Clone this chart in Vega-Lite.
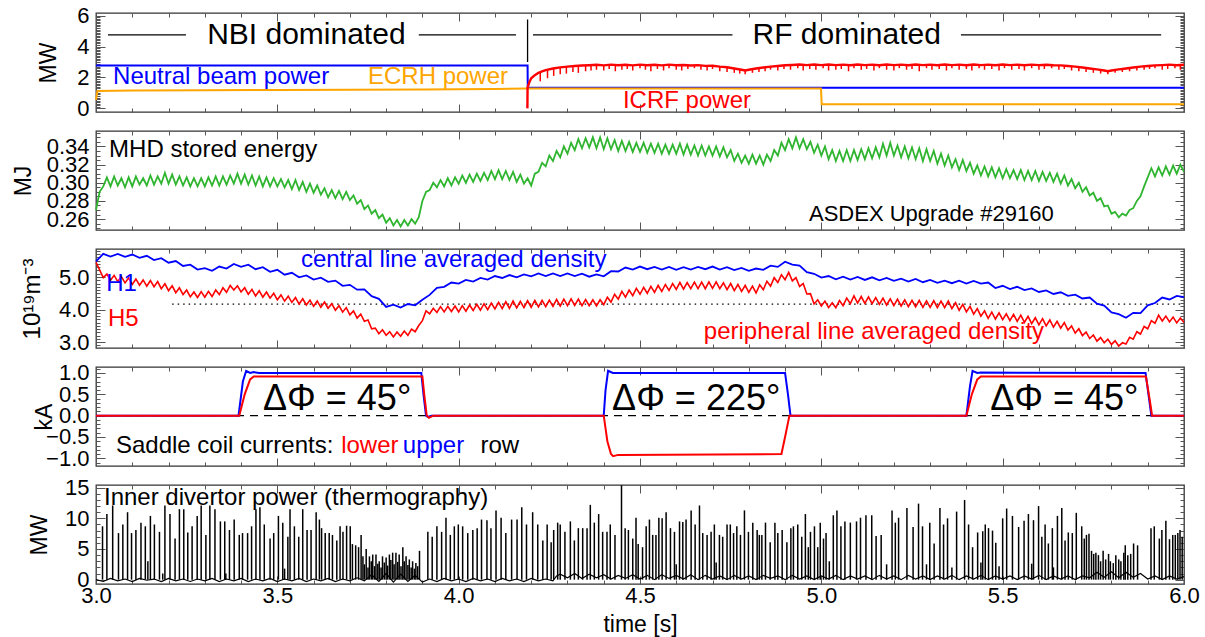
{
"$schema":"https://vega.github.io/schema/vega-lite/v6.json",
"background":"white",
"bounds":"flush",
"padding":{"left":11,"top":3,"right":5,"bottom":2},
"spacing":19,
"config":{
 "font":"Liberation Sans",
 "view":{"stroke":"#333","strokeWidth":1.3},
 "axis":{"labelFont":"Liberation Sans","labelFontSize":22,"labelColor":"#000","titleFont":"Liberation Sans","titleFontSize":23,"titleFontWeight":"normal","titleColor":"#000","tickColor":"#555","tickWidth":1,"domain":false,"grid":false,"labelOverlap":false,"labelFlush":false},
 "text":{"font":"Liberation Sans"}
},
"datasets":{
"nbi":[{"t":3,"v":2.78},{"t":4.19,"v":2.78},{"t":4.1905,"v":1.33},{"t":6,"v":1.33}],
"ecrh":[{"t":3,"v":0.55},{"t":3.004,"v":1.12},{"t":3.1,"v":1.15},{"t":3.3,"v":1.17},{"t":3.5,"v":1.19},{"t":3.7,"v":1.2},{"t":3.9,"v":1.22},{"t":4.1,"v":1.25},{"t":4.19,"v":1.28},{"t":4.6,"v":1.28},{"t":4.999,"v":1.28},{"t":5.001,"v":0.27},{"t":6,"v":0.27}],
"icrf":[{"t":4.1895,"v":0},{"t":4.19,"v":1.35},{"t":4.195,"v":1.7},{"t":4.2,"v":1.95},{"t":4.21,"v":2.15},{"t":4.22,"v":2.3},{"t":4.23,"v":2.4},{"t":4.24,"v":2.48},{"t":4.26,"v":2.58},{"t":4.28,"v":2.65},{"t":4.3,"v":2.7},{"t":4.32,"v":2.74},{"t":4.34,"v":2.77},{"t":4.36,"v":2.79},{"t":4.38,"v":2.82},{"t":4.4,"v":2.78},{"t":4.42,"v":2.83},{"t":4.44,"v":2.79},{"t":4.46,"v":2.82},{"t":4.48,"v":2.78},{"t":4.5,"v":2.83},{"t":4.52,"v":2.79},{"t":4.54,"v":2.82},{"t":4.56,"v":2.78},{"t":4.58,"v":2.83},{"t":4.6,"v":2.79},{"t":4.62,"v":2.81},{"t":4.64,"v":2.77},{"t":4.66,"v":2.8},{"t":4.68,"v":2.75},{"t":4.7,"v":2.76},{"t":4.72,"v":2.7},{"t":4.74,"v":2.66},{"t":4.76,"v":2.58},{"t":4.78,"v":2.5},{"t":4.79,"v":2.45},{"t":4.8,"v":2.5},{"t":4.82,"v":2.58},{"t":4.84,"v":2.64},{"t":4.86,"v":2.7},{"t":4.88,"v":2.74},{"t":4.9,"v":2.79},{"t":4.92,"v":2.81},{"t":4.94,"v":2.84},{"t":4.96,"v":2.8},{"t":4.98,"v":2.84},{"t":5,"v":2.8},{"t":5.02,"v":2.84},{"t":5.04,"v":2.8},{"t":5.06,"v":2.83},{"t":5.08,"v":2.79},{"t":5.1,"v":2.84},{"t":5.12,"v":2.8},{"t":5.14,"v":2.83},{"t":5.16,"v":2.79},{"t":5.18,"v":2.84},{"t":5.2,"v":2.8},{"t":5.22,"v":2.83},{"t":5.24,"v":2.79},{"t":5.26,"v":2.84},{"t":5.28,"v":2.8},{"t":5.3,"v":2.83},{"t":5.32,"v":2.79},{"t":5.34,"v":2.84},{"t":5.36,"v":2.8},{"t":5.38,"v":2.83},{"t":5.4,"v":2.79},{"t":5.42,"v":2.84},{"t":5.44,"v":2.8},{"t":5.46,"v":2.83},{"t":5.48,"v":2.79},{"t":5.5,"v":2.84},{"t":5.52,"v":2.8},{"t":5.54,"v":2.83},{"t":5.56,"v":2.79},{"t":5.58,"v":2.83},{"t":5.6,"v":2.8},{"t":5.62,"v":2.82},{"t":5.64,"v":2.79},{"t":5.66,"v":2.78},{"t":5.68,"v":2.74},{"t":5.7,"v":2.7},{"t":5.72,"v":2.64},{"t":5.74,"v":2.58},{"t":5.76,"v":2.52},{"t":5.78,"v":2.45},{"t":5.79,"v":2.4},{"t":5.8,"v":2.45},{"t":5.82,"v":2.52},{"t":5.84,"v":2.58},{"t":5.86,"v":2.64},{"t":5.88,"v":2.7},{"t":5.9,"v":2.74},{"t":5.92,"v":2.78},{"t":5.94,"v":2.8},{"t":5.96,"v":2.83},{"t":5.98,"v":2.79},{"t":6,"v":2.82}],
"dips":[{"t":4.225,"hi":2.35,"lo":1.75},{"t":4.245,"hi":2.5,"lo":1.95},{"t":4.262,"hi":2.58,"lo":2.1},{"t":4.28,"hi":2.65,"lo":2.2},{"t":4.297,"hi":2.7,"lo":2.25},{"t":4.315,"hi":2.74,"lo":2.35},{"t":4.33,"hi":2.76,"lo":2.3},{"t":4.35,"hi":2.78,"lo":2.4},{"t":4.365,"hi":2.8,"lo":2.45},{"t":4.38,"hi":2.8,"lo":2.5},{"t":4.4,"hi":2.8,"lo":2.45},{"t":4.415,"hi":2.8,"lo":2.55},{"t":4.432,"hi":2.8,"lo":2.4},{"t":4.45,"hi":2.8,"lo":2.5},{"t":4.465,"hi":2.8,"lo":2.55},{"t":4.48,"hi":2.8,"lo":2.45},{"t":4.5,"hi":2.8,"lo":2.6},{"t":4.515,"hi":2.8,"lo":2.5},{"t":4.53,"hi":2.8,"lo":2.4},{"t":4.548,"hi":2.8,"lo":2.55},{"t":4.565,"hi":2.8,"lo":2.45},{"t":4.58,"hi":2.8,"lo":2.6},{"t":4.6,"hi":2.8,"lo":2.5},{"t":4.615,"hi":2.8,"lo":2.45},{"t":4.632,"hi":2.8,"lo":2.55},{"t":4.65,"hi":2.8,"lo":2.6},{"t":4.668,"hi":2.78,"lo":2.5},{"t":4.685,"hi":2.76,"lo":2.45},{"t":4.7,"hi":2.75,"lo":2.55},{"t":4.72,"hi":2.7,"lo":2.4},{"t":4.74,"hi":2.66,"lo":2.35},{"t":4.76,"hi":2.58,"lo":2.3},{"t":4.775,"hi":2.52,"lo":2.25},{"t":4.79,"hi":2.45,"lo":2.2},{"t":4.81,"hi":2.54,"lo":2.3},{"t":4.828,"hi":2.62,"lo":2.35},{"t":4.845,"hi":2.66,"lo":2.4},{"t":4.86,"hi":2.7,"lo":2.5},{"t":4.88,"hi":2.74,"lo":2.45},{"t":4.897,"hi":2.79,"lo":2.55},{"t":4.915,"hi":2.8,"lo":2.5},{"t":4.935,"hi":2.82,"lo":2.6},{"t":4.95,"hi":2.82,"lo":2.45},{"t":4.968,"hi":2.82,"lo":2.55},{"t":4.985,"hi":2.82,"lo":2.5},{"t":5.005,"hi":2.82,"lo":2.6},{"t":5.02,"hi":2.82,"lo":2.45},{"t":5.04,"hi":2.82,"lo":2.5},{"t":5.055,"hi":2.82,"lo":2.55},{"t":5.075,"hi":2.82,"lo":2.4},{"t":5.09,"hi":2.82,"lo":2.6},{"t":5.11,"hi":2.82,"lo":2.5},{"t":5.125,"hi":2.82,"lo":2.55},{"t":5.145,"hi":2.82,"lo":2.45},{"t":5.16,"hi":2.82,"lo":2.6},{"t":5.18,"hi":2.82,"lo":2.5},{"t":5.2,"hi":2.82,"lo":2.45},{"t":5.215,"hi":2.82,"lo":2.6},{"t":5.235,"hi":2.82,"lo":2.5},{"t":5.25,"hi":2.82,"lo":2.55},{"t":5.27,"hi":2.82,"lo":2.4},{"t":5.29,"hi":2.82,"lo":2.6},{"t":5.305,"hi":2.82,"lo":2.5},{"t":5.325,"hi":2.82,"lo":2.55},{"t":5.345,"hi":2.82,"lo":2.45},{"t":5.36,"hi":2.82,"lo":2.6},{"t":5.38,"hi":2.82,"lo":2.5},{"t":5.4,"hi":2.82,"lo":2.55},{"t":5.415,"hi":2.82,"lo":2.45},{"t":5.435,"hi":2.82,"lo":2.6},{"t":5.45,"hi":2.82,"lo":2.5},{"t":5.47,"hi":2.82,"lo":2.55},{"t":5.49,"hi":2.82,"lo":2.45},{"t":5.505,"hi":2.82,"lo":2.6},{"t":5.525,"hi":2.82,"lo":2.5},{"t":5.545,"hi":2.82,"lo":2.55},{"t":5.56,"hi":2.82,"lo":2.45},{"t":5.58,"hi":2.82,"lo":2.6},{"t":5.6,"hi":2.81,"lo":2.5},{"t":5.615,"hi":2.8,"lo":2.55},{"t":5.635,"hi":2.79,"lo":2.6},{"t":5.655,"hi":2.78,"lo":2.5},{"t":5.67,"hi":2.76,"lo":2.55},{"t":5.69,"hi":2.72,"lo":2.45},{"t":5.71,"hi":2.67,"lo":2.4},{"t":5.73,"hi":2.61,"lo":2.35},{"t":5.75,"hi":2.55,"lo":2.3},{"t":5.77,"hi":2.48,"lo":2.25},{"t":5.79,"hi":2.4,"lo":2.2},{"t":5.81,"hi":2.48,"lo":2.3},{"t":5.83,"hi":2.55,"lo":2.35},{"t":5.85,"hi":2.61,"lo":2.4},{"t":5.87,"hi":2.67,"lo":2.45},{"t":5.89,"hi":2.72,"lo":2.5},{"t":5.905,"hi":2.75,"lo":2.55},{"t":5.92,"hi":2.78,"lo":2.6},{"t":5.94,"hi":2.8,"lo":2.5},{"t":5.955,"hi":2.81,"lo":2.55},{"t":5.975,"hi":2.81,"lo":2.6},{"t":5.99,"hi":2.81,"lo":2.5}],
"hl":[{"t1":3.033,"t2":3.248,"v":4.75},{"t1":3.89,"t2":4.158,"v":4.75},{"t1":4.205,"t2":4.755,"v":4.75},{"t1":5.385,"t2":5.937,"v":4.75}],
"div":[{"t":4.19,"lo":3.0,"hi":5.75}],
"w":[{"t":3.00,"v":0.270},{"t":3.01,"v":0.290},{"t":3.02,"v":0.296},{"t":3.03,"v":0.306},{"t":3.04,"v":0.296},{"t":3.05,"v":0.307},{"t":3.06,"v":0.297},{"t":3.07,"v":0.305},{"t":3.08,"v":0.295},{"t":3.09,"v":0.306},{"t":3.10,"v":0.296},{"t":3.11,"v":0.307},{"t":3.12,"v":0.298},{"t":3.13,"v":0.305},{"t":3.14,"v":0.297},{"t":3.15,"v":0.308},{"t":3.16,"v":0.298},{"t":3.17,"v":0.307},{"t":3.18,"v":0.299},{"t":3.19,"v":0.311},{"t":3.20,"v":0.299},{"t":3.21,"v":0.309},{"t":3.22,"v":0.298},{"t":3.23,"v":0.307},{"t":3.24,"v":0.297},{"t":3.25,"v":0.306},{"t":3.26,"v":0.296},{"t":3.27,"v":0.305},{"t":3.28,"v":0.296},{"t":3.29,"v":0.305},{"t":3.30,"v":0.296},{"t":3.31,"v":0.306},{"t":3.32,"v":0.297},{"t":3.33,"v":0.307},{"t":3.34,"v":0.297},{"t":3.35,"v":0.307},{"t":3.36,"v":0.298},{"t":3.37,"v":0.308},{"t":3.38,"v":0.299},{"t":3.39,"v":0.310},{"t":3.40,"v":0.299},{"t":3.41,"v":0.309},{"t":3.42,"v":0.298},{"t":3.43,"v":0.308},{"t":3.44,"v":0.297},{"t":3.45,"v":0.307},{"t":3.46,"v":0.296},{"t":3.47,"v":0.306},{"t":3.48,"v":0.296},{"t":3.49,"v":0.305},{"t":3.50,"v":0.296},{"t":3.51,"v":0.304},{"t":3.52,"v":0.295},{"t":3.53,"v":0.303},{"t":3.54,"v":0.293},{"t":3.55,"v":0.303},{"t":3.56,"v":0.292},{"t":3.57,"v":0.301},{"t":3.58,"v":0.290},{"t":3.59,"v":0.299},{"t":3.60,"v":0.289},{"t":3.61,"v":0.297},{"t":3.62,"v":0.287},{"t":3.63,"v":0.294},{"t":3.64,"v":0.284},{"t":3.65,"v":0.292},{"t":3.66,"v":0.283},{"t":3.67,"v":0.291},{"t":3.68,"v":0.282},{"t":3.69,"v":0.290},{"t":3.70,"v":0.281},{"t":3.71,"v":0.286},{"t":3.72,"v":0.277},{"t":3.73,"v":0.281},{"t":3.74,"v":0.271},{"t":3.75,"v":0.275},{"t":3.76,"v":0.266},{"t":3.77,"v":0.270},{"t":3.78,"v":0.261},{"t":3.79,"v":0.265},{"t":3.80,"v":0.256},{"t":3.81,"v":0.261},{"t":3.82,"v":0.253},{"t":3.83,"v":0.259},{"t":3.84,"v":0.252},{"t":3.85,"v":0.259},{"t":3.86,"v":0.253},{"t":3.87,"v":0.260},{"t":3.88,"v":0.255},{"t":3.89,"v":0.262},{"t":3.90,"v":0.280},{"t":3.91,"v":0.290},{"t":3.92,"v":0.292},{"t":3.93,"v":0.300},{"t":3.94,"v":0.295},{"t":3.95,"v":0.303},{"t":3.96,"v":0.296},{"t":3.97,"v":0.305},{"t":3.98,"v":0.297},{"t":3.99,"v":0.306},{"t":4.00,"v":0.299},{"t":4.01,"v":0.308},{"t":4.02,"v":0.300},{"t":4.03,"v":0.309},{"t":4.04,"v":0.301},{"t":4.05,"v":0.310},{"t":4.06,"v":0.302},{"t":4.07,"v":0.311},{"t":4.08,"v":0.303},{"t":4.09,"v":0.313},{"t":4.10,"v":0.304},{"t":4.11,"v":0.314},{"t":4.12,"v":0.304},{"t":4.13,"v":0.313},{"t":4.14,"v":0.303},{"t":4.15,"v":0.312},{"t":4.16,"v":0.301},{"t":4.17,"v":0.309},{"t":4.18,"v":0.299},{"t":4.19,"v":0.305},{"t":4.20,"v":0.297},{"t":4.21,"v":0.310},{"t":4.22,"v":0.312},{"t":4.23,"v":0.322},{"t":4.24,"v":0.318},{"t":4.25,"v":0.330},{"t":4.26,"v":0.324},{"t":4.27,"v":0.335},{"t":4.28,"v":0.328},{"t":4.29,"v":0.340},{"t":4.30,"v":0.332},{"t":4.31,"v":0.344},{"t":4.32,"v":0.336},{"t":4.33,"v":0.348},{"t":4.34,"v":0.338},{"t":4.35,"v":0.349},{"t":4.36,"v":0.339},{"t":4.37,"v":0.350},{"t":4.38,"v":0.338},{"t":4.39,"v":0.350},{"t":4.40,"v":0.337},{"t":4.41,"v":0.349},{"t":4.42,"v":0.337},{"t":4.43,"v":0.347},{"t":4.44,"v":0.335},{"t":4.45,"v":0.346},{"t":4.46,"v":0.335},{"t":4.47,"v":0.345},{"t":4.48,"v":0.334},{"t":4.49,"v":0.344},{"t":4.50,"v":0.334},{"t":4.51,"v":0.344},{"t":4.52,"v":0.333},{"t":4.53,"v":0.343},{"t":4.54,"v":0.333},{"t":4.55,"v":0.343},{"t":4.56,"v":0.332},{"t":4.57,"v":0.342},{"t":4.58,"v":0.332},{"t":4.59,"v":0.342},{"t":4.60,"v":0.332},{"t":4.61,"v":0.343},{"t":4.62,"v":0.331},{"t":4.63,"v":0.342},{"t":4.64,"v":0.331},{"t":4.65,"v":0.341},{"t":4.66,"v":0.330},{"t":4.67,"v":0.341},{"t":4.68,"v":0.330},{"t":4.69,"v":0.340},{"t":4.70,"v":0.330},{"t":4.71,"v":0.340},{"t":4.72,"v":0.329},{"t":4.73,"v":0.339},{"t":4.74,"v":0.328},{"t":4.75,"v":0.336},{"t":4.76,"v":0.324},{"t":4.77,"v":0.332},{"t":4.78,"v":0.322},{"t":4.79,"v":0.330},{"t":4.80,"v":0.321},{"t":4.81,"v":0.331},{"t":4.82,"v":0.321},{"t":4.83,"v":0.330},{"t":4.84,"v":0.320},{"t":4.85,"v":0.331},{"t":4.86,"v":0.324},{"t":4.87,"v":0.336},{"t":4.88,"v":0.330},{"t":4.89,"v":0.344},{"t":4.90,"v":0.336},{"t":4.91,"v":0.348},{"t":4.92,"v":0.338},{"t":4.93,"v":0.350},{"t":4.94,"v":0.338},{"t":4.95,"v":0.348},{"t":4.96,"v":0.337},{"t":4.97,"v":0.345},{"t":4.98,"v":0.333},{"t":4.99,"v":0.342},{"t":5.00,"v":0.330},{"t":5.01,"v":0.340},{"t":5.02,"v":0.326},{"t":5.03,"v":0.336},{"t":5.04,"v":0.324},{"t":5.05,"v":0.335},{"t":5.06,"v":0.324},{"t":5.07,"v":0.336},{"t":5.08,"v":0.324},{"t":5.09,"v":0.336},{"t":5.10,"v":0.325},{"t":5.11,"v":0.337},{"t":5.12,"v":0.326},{"t":5.13,"v":0.338},{"t":5.14,"v":0.327},{"t":5.15,"v":0.339},{"t":5.16,"v":0.328},{"t":5.17,"v":0.343},{"t":5.18,"v":0.330},{"t":5.19,"v":0.344},{"t":5.20,"v":0.330},{"t":5.21,"v":0.341},{"t":5.22,"v":0.328},{"t":5.23,"v":0.340},{"t":5.24,"v":0.327},{"t":5.25,"v":0.339},{"t":5.26,"v":0.326},{"t":5.27,"v":0.338},{"t":5.28,"v":0.324},{"t":5.29,"v":0.337},{"t":5.30,"v":0.324},{"t":5.31,"v":0.335},{"t":5.32,"v":0.321},{"t":5.33,"v":0.332},{"t":5.34,"v":0.319},{"t":5.35,"v":0.330},{"t":5.36,"v":0.317},{"t":5.37,"v":0.326},{"t":5.38,"v":0.314},{"t":5.39,"v":0.325},{"t":5.40,"v":0.313},{"t":5.41,"v":0.322},{"t":5.42,"v":0.310},{"t":5.43,"v":0.319},{"t":5.44,"v":0.308},{"t":5.45,"v":0.318},{"t":5.46,"v":0.307},{"t":5.47,"v":0.317},{"t":5.48,"v":0.306},{"t":5.49,"v":0.316},{"t":5.50,"v":0.305},{"t":5.51,"v":0.315},{"t":5.52,"v":0.305},{"t":5.53,"v":0.314},{"t":5.54,"v":0.304},{"t":5.55,"v":0.314},{"t":5.56,"v":0.303},{"t":5.57,"v":0.313},{"t":5.58,"v":0.303},{"t":5.59,"v":0.313},{"t":5.60,"v":0.302},{"t":5.61,"v":0.312},{"t":5.62,"v":0.302},{"t":5.63,"v":0.311},{"t":5.64,"v":0.301},{"t":5.65,"v":0.310},{"t":5.66,"v":0.299},{"t":5.67,"v":0.308},{"t":5.68,"v":0.297},{"t":5.69,"v":0.304},{"t":5.70,"v":0.294},{"t":5.71,"v":0.300},{"t":5.72,"v":0.290},{"t":5.73,"v":0.295},{"t":5.74,"v":0.286},{"t":5.75,"v":0.289},{"t":5.76,"v":0.280},{"t":5.77,"v":0.283},{"t":5.78,"v":0.274},{"t":5.79,"v":0.275},{"t":5.80,"v":0.266},{"t":5.81,"v":0.268},{"t":5.82,"v":0.262},{"t":5.83,"v":0.266},{"t":5.84,"v":0.264},{"t":5.85,"v":0.270},{"t":5.86,"v":0.272},{"t":5.87,"v":0.280},{"t":5.88,"v":0.285},{"t":5.89,"v":0.296},{"t":5.90,"v":0.306},{"t":5.91,"v":0.316},{"t":5.92,"v":0.307},{"t":5.93,"v":0.317},{"t":5.94,"v":0.308},{"t":5.95,"v":0.318},{"t":5.96,"v":0.309},{"t":5.97,"v":0.319},{"t":5.98,"v":0.310},{"t":5.99,"v":0.320},{"t":6.00,"v":0.312}],
"h1":[{"t":3.00,"v":5.48},{"t":3.02,"v":5.71},{"t":3.04,"v":5.63},{"t":3.06,"v":5.71},{"t":3.08,"v":5.62},{"t":3.10,"v":5.69},{"t":3.12,"v":5.59},{"t":3.14,"v":5.65},{"t":3.16,"v":5.52},{"t":3.18,"v":5.58},{"t":3.20,"v":5.44},{"t":3.22,"v":5.49},{"t":3.24,"v":5.34},{"t":3.26,"v":5.38},{"t":3.28,"v":5.23},{"t":3.30,"v":5.27},{"t":3.32,"v":5.19},{"t":3.34,"v":5.32},{"t":3.36,"v":5.26},{"t":3.38,"v":5.40},{"t":3.40,"v":5.31},{"t":3.42,"v":5.38},{"t":3.44,"v":5.24},{"t":3.46,"v":5.30},{"t":3.48,"v":5.16},{"t":3.50,"v":5.22},{"t":3.52,"v":5.07},{"t":3.54,"v":5.13},{"t":3.56,"v":4.99},{"t":3.58,"v":5.05},{"t":3.60,"v":4.92},{"t":3.62,"v":4.98},{"t":3.64,"v":4.85},{"t":3.66,"v":4.89},{"t":3.68,"v":4.73},{"t":3.70,"v":4.76},{"t":3.72,"v":4.61},{"t":3.74,"v":4.62},{"t":3.76,"v":4.41},{"t":3.78,"v":4.33},{"t":3.80,"v":4.08},{"t":3.82,"v":4.15},{"t":3.84,"v":4.06},{"t":3.86,"v":4.17},{"t":3.88,"v":4.13},{"t":3.90,"v":4.30},{"t":3.92,"v":4.45},{"t":3.94,"v":4.67},{"t":3.96,"v":4.70},{"t":3.98,"v":4.83},{"t":4.00,"v":4.80},{"t":4.02,"v":4.91},{"t":4.04,"v":4.86},{"t":4.06,"v":4.97},{"t":4.08,"v":4.92},{"t":4.10,"v":5.03},{"t":4.12,"v":4.97},{"t":4.14,"v":5.06},{"t":4.16,"v":4.99},{"t":4.18,"v":5.08},{"t":4.20,"v":5.02},{"t":4.22,"v":5.11},{"t":4.24,"v":5.03},{"t":4.26,"v":5.11},{"t":4.28,"v":5.03},{"t":4.30,"v":5.11},{"t":4.32,"v":5.03},{"t":4.34,"v":5.10},{"t":4.36,"v":5.01},{"t":4.38,"v":5.08},{"t":4.40,"v":5.02},{"t":4.42,"v":5.18},{"t":4.44,"v":5.17},{"t":4.46,"v":5.29},{"t":4.48,"v":5.23},{"t":4.50,"v":5.32},{"t":4.52,"v":5.24},{"t":4.54,"v":5.31},{"t":4.56,"v":5.23},{"t":4.58,"v":5.31},{"t":4.60,"v":5.22},{"t":4.62,"v":5.30},{"t":4.64,"v":5.23},{"t":4.66,"v":5.31},{"t":4.68,"v":5.24},{"t":4.70,"v":5.32},{"t":4.72,"v":5.23},{"t":4.74,"v":5.30},{"t":4.76,"v":5.21},{"t":4.78,"v":5.28},{"t":4.80,"v":5.19},{"t":4.82,"v":5.26},{"t":4.84,"v":5.22},{"t":4.86,"v":5.35},{"t":4.88,"v":5.31},{"t":4.90,"v":5.47},{"t":4.92,"v":5.38},{"t":4.94,"v":5.35},{"t":4.96,"v":5.15},{"t":4.98,"v":5.10},{"t":5.00,"v":4.98},{"t":5.02,"v":5.03},{"t":5.04,"v":4.93},{"t":5.06,"v":5.01},{"t":5.08,"v":4.92},{"t":5.10,"v":5.00},{"t":5.12,"v":4.91},{"t":5.14,"v":4.99},{"t":5.16,"v":4.90},{"t":5.18,"v":4.97},{"t":5.20,"v":4.88},{"t":5.22,"v":4.95},{"t":5.24,"v":4.86},{"t":5.26,"v":4.94},{"t":5.28,"v":4.84},{"t":5.30,"v":4.91},{"t":5.32,"v":4.82},{"t":5.34,"v":4.89},{"t":5.36,"v":4.81},{"t":5.38,"v":4.89},{"t":5.40,"v":4.80},{"t":5.42,"v":4.88},{"t":5.44,"v":4.80},{"t":5.46,"v":4.83},{"t":5.48,"v":4.66},{"t":5.50,"v":4.73},{"t":5.52,"v":4.63},{"t":5.54,"v":4.70},{"t":5.56,"v":4.60},{"t":5.58,"v":4.65},{"t":5.60,"v":4.54},{"t":5.62,"v":4.59},{"t":5.64,"v":4.48},{"t":5.66,"v":4.53},{"t":5.68,"v":4.42},{"t":5.70,"v":4.46},{"t":5.72,"v":4.34},{"t":5.74,"v":4.37},{"t":5.76,"v":4.18},{"t":5.78,"v":4.12},{"t":5.80,"v":3.91},{"t":5.82,"v":3.86},{"t":5.84,"v":3.75},{"t":5.86,"v":3.90},{"t":5.88,"v":3.89},{"t":5.90,"v":4.13},{"t":5.92,"v":4.20},{"t":5.94,"v":4.37},{"t":5.96,"v":4.31},{"t":5.98,"v":4.42},{"t":6.00,"v":4.38}],
"h5":[{"t":3.00,"v":5.45},{"t":3.01,"v":5.22},{"t":3.02,"v":4.98},{"t":3.03,"v":5.09},{"t":3.04,"v":4.90},{"t":3.05,"v":5.05},{"t":3.06,"v":4.86},{"t":3.07,"v":5.01},{"t":3.08,"v":4.82},{"t":3.09,"v":4.97},{"t":3.10,"v":4.77},{"t":3.11,"v":4.94},{"t":3.12,"v":4.75},{"t":3.13,"v":4.91},{"t":3.14,"v":4.72},{"t":3.15,"v":4.89},{"t":3.16,"v":4.70},{"t":3.17,"v":4.86},{"t":3.18,"v":4.64},{"t":3.19,"v":4.79},{"t":3.20,"v":4.58},{"t":3.21,"v":4.73},{"t":3.22,"v":4.52},{"t":3.23,"v":4.67},{"t":3.24,"v":4.46},{"t":3.25,"v":4.60},{"t":3.26,"v":4.39},{"t":3.27,"v":4.54},{"t":3.28,"v":4.37},{"t":3.29,"v":4.55},{"t":3.30,"v":4.38},{"t":3.31,"v":4.56},{"t":3.32,"v":4.40},{"t":3.33,"v":4.60},{"t":3.34,"v":4.46},{"t":3.35,"v":4.67},{"t":3.36,"v":4.53},{"t":3.37,"v":4.74},{"t":3.38,"v":4.60},{"t":3.39,"v":4.73},{"t":3.40,"v":4.54},{"t":3.41,"v":4.67},{"t":3.42,"v":4.47},{"t":3.43,"v":4.62},{"t":3.44,"v":4.42},{"t":3.45,"v":4.58},{"t":3.46,"v":4.38},{"t":3.47,"v":4.54},{"t":3.48,"v":4.35},{"t":3.49,"v":4.50},{"t":3.50,"v":4.30},{"t":3.51,"v":4.45},{"t":3.52,"v":4.26},{"t":3.53,"v":4.41},{"t":3.54,"v":4.22},{"t":3.55,"v":4.37},{"t":3.56,"v":4.17},{"t":3.57,"v":4.33},{"t":3.58,"v":4.14},{"t":3.59,"v":4.29},{"t":3.60,"v":4.10},{"t":3.61,"v":4.26},{"t":3.62,"v":4.07},{"t":3.63,"v":4.23},{"t":3.64,"v":4.04},{"t":3.65,"v":4.18},{"t":3.66,"v":3.98},{"t":3.67,"v":4.12},{"t":3.68,"v":3.92},{"t":3.69,"v":4.06},{"t":3.70,"v":3.84},{"t":3.71,"v":3.96},{"t":3.72,"v":3.74},{"t":3.73,"v":3.86},{"t":3.74,"v":3.64},{"t":3.75,"v":3.68},{"t":3.76,"v":3.41},{"t":3.77,"v":3.43},{"t":3.78,"v":3.26},{"t":3.79,"v":3.38},{"t":3.80,"v":3.21},{"t":3.81,"v":3.32},{"t":3.82,"v":3.16},{"t":3.83,"v":3.31},{"t":3.84,"v":3.18},{"t":3.85,"v":3.34},{"t":3.86,"v":3.21},{"t":3.87,"v":3.40},{"t":3.88,"v":3.32},{"t":3.89,"v":3.51},{"t":3.90,"v":3.66},{"t":3.91,"v":3.96},{"t":3.92,"v":3.87},{"t":3.93,"v":4.04},{"t":3.94,"v":3.91},{"t":3.95,"v":4.09},{"t":3.96,"v":3.93},{"t":3.97,"v":4.10},{"t":3.98,"v":3.94},{"t":3.99,"v":4.11},{"t":4.00,"v":3.93},{"t":4.01,"v":4.12},{"t":4.02,"v":3.95},{"t":4.03,"v":4.14},{"t":4.04,"v":3.97},{"t":4.05,"v":4.16},{"t":4.06,"v":3.98},{"t":4.07,"v":4.18},{"t":4.08,"v":4.00},{"t":4.09,"v":4.20},{"t":4.10,"v":4.02},{"t":4.11,"v":4.22},{"t":4.12,"v":4.03},{"t":4.13,"v":4.24},{"t":4.14,"v":4.04},{"t":4.15,"v":4.26},{"t":4.16,"v":4.05},{"t":4.17,"v":4.25},{"t":4.18,"v":4.06},{"t":4.19,"v":4.27},{"t":4.20,"v":4.07},{"t":4.21,"v":4.28},{"t":4.22,"v":4.08},{"t":4.23,"v":4.28},{"t":4.24,"v":4.09},{"t":4.25,"v":4.29},{"t":4.26,"v":4.10},{"t":4.27,"v":4.31},{"t":4.28,"v":4.11},{"t":4.29,"v":4.32},{"t":4.30,"v":4.12},{"t":4.31,"v":4.33},{"t":4.32,"v":4.13},{"t":4.33,"v":4.32},{"t":4.34,"v":4.12},{"t":4.35,"v":4.31},{"t":4.36,"v":4.12},{"t":4.37,"v":4.30},{"t":4.38,"v":4.11},{"t":4.39,"v":4.30},{"t":4.40,"v":4.15},{"t":4.41,"v":4.38},{"t":4.42,"v":4.23},{"t":4.43,"v":4.47},{"t":4.44,"v":4.32},{"t":4.45,"v":4.56},{"t":4.46,"v":4.38},{"t":4.47,"v":4.60},{"t":4.48,"v":4.43},{"t":4.49,"v":4.65},{"t":4.50,"v":4.47},{"t":4.51,"v":4.68},{"t":4.52,"v":4.50},{"t":4.53,"v":4.71},{"t":4.54,"v":4.53},{"t":4.55,"v":4.74},{"t":4.56,"v":4.56},{"t":4.57,"v":4.77},{"t":4.58,"v":4.59},{"t":4.59,"v":4.80},{"t":4.60,"v":4.62},{"t":4.61,"v":4.83},{"t":4.62,"v":4.63},{"t":4.63,"v":4.83},{"t":4.64,"v":4.64},{"t":4.65,"v":4.84},{"t":4.66,"v":4.64},{"t":4.67,"v":4.84},{"t":4.68,"v":4.64},{"t":4.69,"v":4.85},{"t":4.70,"v":4.65},{"t":4.71,"v":4.85},{"t":4.72,"v":4.64},{"t":4.73,"v":4.82},{"t":4.74,"v":4.61},{"t":4.75,"v":4.80},{"t":4.76,"v":4.58},{"t":4.77,"v":4.77},{"t":4.78,"v":4.56},{"t":4.79,"v":4.74},{"t":4.80,"v":4.53},{"t":4.81,"v":4.72},{"t":4.82,"v":4.51},{"t":4.83,"v":4.76},{"t":4.84,"v":4.61},{"t":4.85,"v":4.87},{"t":4.86,"v":4.72},{"t":4.87,"v":4.98},{"t":4.88,"v":4.83},{"t":4.89,"v":5.07},{"t":4.90,"v":4.92},{"t":4.91,"v":5.14},{"t":4.92,"v":4.88},{"t":4.93,"v":4.98},{"t":4.94,"v":4.71},{"t":4.95,"v":4.80},{"t":4.96,"v":4.48},{"t":4.97,"v":4.49},{"t":4.98,"v":4.17},{"t":4.99,"v":4.30},{"t":5.00,"v":4.11},{"t":5.01,"v":4.26},{"t":5.02,"v":4.06},{"t":5.03,"v":4.21},{"t":5.04,"v":4.06},{"t":5.05,"v":4.28},{"t":5.06,"v":4.12},{"t":5.07,"v":4.35},{"t":5.08,"v":4.18},{"t":5.09,"v":4.42},{"t":5.10,"v":4.20},{"t":5.11,"v":4.40},{"t":5.12,"v":4.19},{"t":5.13,"v":4.39},{"t":5.14,"v":4.18},{"t":5.15,"v":4.37},{"t":5.16,"v":4.16},{"t":5.17,"v":4.35},{"t":5.18,"v":4.14},{"t":5.19,"v":4.33},{"t":5.20,"v":4.12},{"t":5.21,"v":4.32},{"t":5.22,"v":4.11},{"t":5.23,"v":4.30},{"t":5.24,"v":4.09},{"t":5.25,"v":4.28},{"t":5.26,"v":4.08},{"t":5.27,"v":4.28},{"t":5.28,"v":4.07},{"t":5.29,"v":4.27},{"t":5.30,"v":4.07},{"t":5.31,"v":4.27},{"t":5.32,"v":4.06},{"t":5.33,"v":4.26},{"t":5.34,"v":4.06},{"t":5.35,"v":4.26},{"t":5.36,"v":4.03},{"t":5.37,"v":4.21},{"t":5.38,"v":3.98},{"t":5.39,"v":4.16},{"t":5.40,"v":3.93},{"t":5.41,"v":4.10},{"t":5.42,"v":3.86},{"t":5.43,"v":4.03},{"t":5.44,"v":3.80},{"t":5.45,"v":3.96},{"t":5.46,"v":3.73},{"t":5.47,"v":3.92},{"t":5.48,"v":3.71},{"t":5.49,"v":3.90},{"t":5.50,"v":3.69},{"t":5.51,"v":3.87},{"t":5.52,"v":3.66},{"t":5.53,"v":3.85},{"t":5.54,"v":3.64},{"t":5.55,"v":3.83},{"t":5.56,"v":3.61},{"t":5.57,"v":3.79},{"t":5.58,"v":3.57},{"t":5.59,"v":3.75},{"t":5.60,"v":3.53},{"t":5.61,"v":3.72},{"t":5.62,"v":3.50},{"t":5.63,"v":3.68},{"t":5.64,"v":3.46},{"t":5.65,"v":3.64},{"t":5.66,"v":3.43},{"t":5.67,"v":3.60},{"t":5.68,"v":3.37},{"t":5.69,"v":3.50},{"t":5.70,"v":3.28},{"t":5.71,"v":3.41},{"t":5.72,"v":3.20},{"t":5.73,"v":3.31},{"t":5.74,"v":3.11},{"t":5.75,"v":3.22},{"t":5.76,"v":3.03},{"t":5.77,"v":3.14},{"t":5.78,"v":2.98},{"t":5.79,"v":3.09},{"t":5.80,"v":2.93},{"t":5.81,"v":3.04},{"t":5.82,"v":2.88},{"t":5.83,"v":2.98},{"t":5.84,"v":2.94},{"t":5.85,"v":3.15},{"t":5.86,"v":3.09},{"t":5.87,"v":3.32},{"t":5.88,"v":3.25},{"t":5.89,"v":3.48},{"t":5.90,"v":3.41},{"t":5.91,"v":3.66},{"t":5.92,"v":3.58},{"t":5.93,"v":3.83},{"t":5.94,"v":3.65},{"t":5.95,"v":3.80},{"t":5.96,"v":3.62},{"t":5.97,"v":3.77},{"t":5.98,"v":3.59},{"t":5.99,"v":3.74},{"t":6.00,"v":3.60}],
"iu":[{"t":3,"v":0},{"t":3.393,"v":0},{"t":3.405,"v":0.8},{"t":3.414,"v":1.05},{"t":3.425,"v":1.0},{"t":3.435,"v":1.02},{"t":3.45,"v":1.0},{"t":3.897,"v":1.0},{"t":3.903,"v":0.5},{"t":3.91,"v":0},{"t":3.915,"v":-0.03},{"t":3.925,"v":0},{"t":4.4,"v":0},{"t":4.405,"v":0.6},{"t":4.412,"v":1.05},{"t":4.425,"v":1.0},{"t":4.9,"v":1.0},{"t":4.908,"v":0.5},{"t":4.915,"v":0},{"t":5.4,"v":0},{"t":5.41,"v":0.7},{"t":5.417,"v":1.05},{"t":5.43,"v":1.0},{"t":5.44,"v":1.01},{"t":5.894,"v":1.0},{"t":5.902,"v":0.5},{"t":5.91,"v":0},{"t":6,"v":0}],
"il":[{"t":3,"v":0},{"t":3.395,"v":0},{"t":3.41,"v":0.5},{"t":3.425,"v":0.85},{"t":3.435,"v":0.92},{"t":3.9,"v":0.92},{"t":3.905,"v":0.5},{"t":3.912,"v":0},{"t":3.918,"v":-0.05},{"t":3.93,"v":0},{"t":4.4,"v":0},{"t":4.41,"v":-0.6},{"t":4.42,"v":-0.9},{"t":4.426,"v":-0.95},{"t":4.44,"v":-0.92},{"t":4.89,"v":-0.9},{"t":4.9,"v":-0.5},{"t":4.912,"v":0},{"t":5.4,"v":0},{"t":5.415,"v":0.5},{"t":5.43,"v":0.85},{"t":5.44,"v":0.92},{"t":5.895,"v":0.92},{"t":5.905,"v":0.4},{"t":5.912,"v":0},{"t":6,"v":0}],
"b5":[{"t":3.00,"v":0.0},{"t":3.02,"v":-0.3},{"t":3.04,"v":0.2},{"t":3.06,"v":-0.2},{"t":3.08,"v":0.1},{"t":3.10,"v":-0.3},{"t":3.12,"v":0.2},{"t":3.14,"v":-0.1},{"t":3.16,"v":0.1},{"t":3.18,"v":-0.3},{"t":3.20,"v":0.2},{"t":3.22,"v":-0.2},{"t":3.24,"v":0.1},{"t":3.26,"v":-0.3},{"t":3.28,"v":0.1},{"t":3.30,"v":-0.2},{"t":3.32,"v":0.2},{"t":3.34,"v":-0.3},{"t":3.36,"v":0.1},{"t":3.38,"v":-0.2},{"t":3.40,"v":0.2},{"t":3.42,"v":-0.3},{"t":3.44,"v":0.1},{"t":3.46,"v":-0.2},{"t":3.48,"v":0.2},{"t":3.50,"v":-0.3},{"t":3.52,"v":0.1},{"t":3.54,"v":-0.2},{"t":3.56,"v":0.2},{"t":3.58,"v":-0.3},{"t":3.60,"v":0.1},{"t":3.62,"v":-0.2},{"t":3.64,"v":0.2},{"t":3.66,"v":-0.3},{"t":3.68,"v":0.1},{"t":3.70,"v":-0.2},{"t":3.72,"v":0.3},{"t":3.74,"v":-0.2},{"t":3.76,"v":0.8},{"t":3.78,"v":-0.3},{"t":3.80,"v":1.0},{"t":3.82,"v":-0.4},{"t":3.84,"v":0.9},{"t":3.86,"v":-0.3},{"t":3.88,"v":0.7},{"t":3.90,"v":-0.4},{"t":3.92,"v":0.1},{"t":3.94,"v":-0.3},{"t":3.96,"v":0.2},{"t":3.98,"v":-0.2},{"t":4.00,"v":0.1},{"t":4.02,"v":-0.3},{"t":4.04,"v":0.2},{"t":4.06,"v":-0.2},{"t":4.08,"v":0.1},{"t":4.10,"v":-0.3},{"t":4.12,"v":0.2},{"t":4.14,"v":-0.2},{"t":4.16,"v":0.1},{"t":4.18,"v":-0.3},{"t":4.20,"v":0.2},{"t":4.22,"v":-0.2},{"t":4.24,"v":0.1},{"t":4.26,"v":-0.2},{"t":4.27,"v":0.6},{"t":4.28,"v":0.9},{"t":4.30,"v":0.3},{"t":4.32,"v":1.0},{"t":4.34,"v":0.2},{"t":4.36,"v":0.9},{"t":4.38,"v":0.3},{"t":4.40,"v":0.8},{"t":4.42,"v":0.1},{"t":4.44,"v":0.7},{"t":4.46,"v":0.2},{"t":4.48,"v":0.8},{"t":4.50,"v":0.1},{"t":4.52,"v":0.7},{"t":4.54,"v":0.0},{"t":4.56,"v":0.8},{"t":4.58,"v":0.2},{"t":4.60,"v":0.7},{"t":4.62,"v":0.1},{"t":4.64,"v":0.8},{"t":4.66,"v":0.0},{"t":4.68,"v":0.7},{"t":4.70,"v":0.1},{"t":4.72,"v":0.6},{"t":4.74,"v":0.0},{"t":4.76,"v":0.7},{"t":4.78,"v":0.1},{"t":4.80,"v":0.6},{"t":4.82,"v":0.0},{"t":4.84,"v":0.7},{"t":4.86,"v":0.2},{"t":4.88,"v":0.6},{"t":4.90,"v":0.0},{"t":4.92,"v":0.7},{"t":4.94,"v":0.1},{"t":4.96,"v":0.6},{"t":4.98,"v":0.0},{"t":5.00,"v":0.6},{"t":5.02,"v":0.1},{"t":5.04,"v":0.7},{"t":5.06,"v":0.0},{"t":5.08,"v":0.6},{"t":5.10,"v":0.1},{"t":5.12,"v":0.6},{"t":5.14,"v":0.0},{"t":5.16,"v":0.7},{"t":5.18,"v":0.1},{"t":5.20,"v":0.6},{"t":5.22,"v":0.0},{"t":5.24,"v":0.7},{"t":5.26,"v":0.1},{"t":5.28,"v":0.6},{"t":5.30,"v":0.0},{"t":5.32,"v":0.6},{"t":5.34,"v":0.1},{"t":5.36,"v":0.7},{"t":5.38,"v":0.0},{"t":5.40,"v":0.6},{"t":5.42,"v":0.1},{"t":5.44,"v":0.7},{"t":5.46,"v":0.0},{"t":5.48,"v":0.6},{"t":5.50,"v":0.1},{"t":5.52,"v":0.6},{"t":5.54,"v":0.0},{"t":5.56,"v":0.6},{"t":5.58,"v":0.1},{"t":5.60,"v":0.7},{"t":5.62,"v":0.0},{"t":5.64,"v":0.6},{"t":5.66,"v":0.1},{"t":5.68,"v":0.6},{"t":5.70,"v":0.0},{"t":5.72,"v":0.6},{"t":5.74,"v":0.3},{"t":5.76,"v":1.2},{"t":5.78,"v":0.4},{"t":5.80,"v":1.3},{"t":5.82,"v":0.3},{"t":5.84,"v":1.2},{"t":5.86,"v":0.4},{"t":5.88,"v":1.0},{"t":5.90,"v":0.1},{"t":5.92,"v":0.6},{"t":5.94,"v":0.0},{"t":5.96,"v":0.6},{"t":5.98,"v":0.1},{"t":6.00,"v":0.5}],
"spk":[{"t":3.018,"p":8.7},{"t":3.030,"p":10.7},{"t":3.046,"p":12.1},{"t":3.062,"p":7.6},{"t":3.074,"p":9.0},{"t":3.087,"p":11.0},{"t":3.098,"p":7.6},{"t":3.110,"p":8.1},{"t":3.124,"p":9.3},{"t":3.136,"p":8.7},{"t":3.143,"p":3.0},{"t":3.150,"p":10.4},{"t":3.161,"p":9.0},{"t":3.175,"p":7.8},{"t":3.184,"p":1.0},{"t":3.190,"p":12.1},{"t":3.204,"p":10.7},{"t":3.218,"p":6.7},{"t":3.230,"p":11.5},{"t":3.242,"p":11.5},{"t":3.253,"p":7.7},{"t":3.265,"p":8.7},{"t":3.279,"p":10.4},{"t":3.290,"p":12.1},{"t":3.303,"p":7.3},{"t":3.314,"p":12.1},{"t":3.328,"p":11.5},{"t":3.343,"p":9.5},{"t":3.355,"p":9.5},{"t":3.358,"p":1.0},{"t":3.368,"p":8.1},{"t":3.381,"p":9.8},{"t":3.395,"p":7.3},{"t":3.404,"p":7.6},{"t":3.418,"p":7.6},{"t":3.429,"p":8.7},{"t":3.441,"p":11.5},{"t":3.452,"p":11.8},{"t":3.464,"p":9.0},{"t":3.480,"p":6.7},{"t":3.490,"p":7.6},{"t":3.503,"p":10.4},{"t":3.515,"p":9.3},{"t":3.520,"p":1.8},{"t":3.529,"p":7.0},{"t":3.535,"p":11.5},{"t":3.547,"p":8.7},{"t":3.559,"p":7.0},{"t":3.570,"p":11.5},{"t":3.582,"p":8.1},{"t":3.593,"p":8.1},{"t":3.607,"p":11.0},{"t":3.616,"p":9.8},{"t":3.622,"p":8.4},{"t":3.632,"p":7.6},{"t":3.643,"p":7.6},{"t":3.652,"p":7.3},{"t":3.664,"p":6.4},{"t":3.673,"p":8.7},{"t":3.681,"p":7.8},{"t":3.691,"p":8.8},{"t":3.701,"p":8.7},{"t":3.707,"p":5.8},{"t":3.716,"p":5.6},{"t":3.724,"p":5.3},{"t":3.731,"p":7.3},{"t":3.736,"p":3.8},{"t":3.740,"p":2.5},{"t":3.745,"p":5.0},{"t":3.750,"p":2.0},{"t":3.754,"p":3.8},{"t":3.759,"p":3.0},{"t":3.763,"p":4.1},{"t":3.768,"p":2.2},{"t":3.772,"p":4.1},{"t":3.777,"p":2.6},{"t":3.781,"p":3.0},{"t":3.786,"p":2.0},{"t":3.790,"p":3.8},{"t":3.795,"p":2.8},{"t":3.800,"p":3.6},{"t":3.804,"p":2.3},{"t":3.809,"p":4.1},{"t":3.813,"p":3.2},{"t":3.818,"p":4.4},{"t":3.822,"p":2.5},{"t":3.827,"p":4.4},{"t":3.832,"p":2.9},{"t":3.836,"p":4.1},{"t":3.841,"p":2.2},{"t":3.846,"p":5.3},{"t":3.850,"p":3.0},{"t":3.855,"p":3.8},{"t":3.860,"p":2.4},{"t":3.864,"p":3.3},{"t":3.869,"p":2.0},{"t":3.873,"p":3.0},{"t":3.878,"p":1.8},{"t":3.882,"p":2.7},{"t":3.887,"p":2.2},{"t":3.892,"p":4.7},{"t":3.915,"p":7.8},{"t":3.927,"p":7.0},{"t":3.940,"p":8.7},{"t":3.953,"p":7.8},{"t":3.965,"p":10.1},{"t":3.977,"p":7.3},{"t":3.988,"p":8.7},{"t":3.999,"p":9.0},{"t":4.011,"p":8.7},{"t":4.025,"p":7.6},{"t":4.039,"p":8.1},{"t":4.051,"p":8.4},{"t":4.063,"p":9.8},{"t":4.078,"p":9.7},{"t":4.089,"p":8.4},{"t":4.103,"p":11.3},{"t":4.117,"p":10.1},{"t":4.130,"p":7.6},{"t":4.146,"p":9.8},{"t":4.161,"p":9.8},{"t":4.174,"p":11.8},{"t":4.187,"p":9.0},{"t":4.204,"p":11.0},{"t":4.218,"p":9.0},{"t":4.232,"p":6.4},{"t":4.244,"p":9.0},{"t":4.255,"p":6.1},{"t":4.262,"p":8.1},{"t":4.273,"p":9.3},{"t":4.280,"p":9.0},{"t":4.293,"p":7.8},{"t":4.308,"p":9.5},{"t":4.319,"p":6.4},{"t":4.330,"p":8.4},{"t":4.342,"p":8.4},{"t":4.354,"p":8.4},{"t":4.363,"p":12.2},{"t":4.374,"p":9.3},{"t":4.386,"p":10.7},{"t":4.397,"p":7.8},{"t":4.409,"p":7.8},{"t":4.418,"p":9.0},{"t":4.431,"p":7.3},{"t":4.449,"p":15.4},{"t":4.459,"p":8.4},{"t":4.468,"p":8.1},{"t":4.480,"p":6.7},{"t":4.489,"p":10.1},{"t":4.495,"p":5.8},{"t":4.507,"p":5.3},{"t":4.517,"p":8.7},{"t":4.526,"p":9.8},{"t":4.535,"p":7.3},{"t":4.544,"p":7.3},{"t":4.552,"p":10.1},{"t":4.561,"p":10.0},{"t":4.572,"p":11.0},{"t":4.584,"p":8.4},{"t":4.595,"p":7.8},{"t":4.600,"p":2.5},{"t":4.609,"p":9.5},{"t":4.618,"p":9.4},{"t":4.627,"p":9.8},{"t":4.641,"p":11.3},{"t":4.652,"p":9.0},{"t":4.664,"p":12.1},{"t":4.673,"p":7.6},{"t":4.685,"p":7.3},{"t":4.696,"p":7.8},{"t":4.705,"p":9.0},{"t":4.710,"p":2.8},{"t":4.719,"p":7.3},{"t":4.728,"p":7.0},{"t":4.740,"p":9.0},{"t":4.749,"p":9.0},{"t":4.758,"p":7.6},{"t":4.767,"p":8.7},{"t":4.777,"p":7.3},{"t":4.788,"p":11.3},{"t":4.799,"p":7.8},{"t":4.811,"p":9.3},{"t":4.823,"p":8.1},{"t":4.829,"p":7.3},{"t":4.836,"p":7.3},{"t":4.846,"p":9.3},{"t":4.859,"p":6.1},{"t":4.872,"p":9.3},{"t":4.880,"p":7.6},{"t":4.892,"p":8.1},{"t":4.905,"p":6.1},{"t":4.916,"p":8.4},{"t":4.923,"p":8.7},{"t":4.935,"p":9.0},{"t":4.946,"p":7.0},{"t":4.956,"p":10.7},{"t":4.964,"p":5.3},{"t":4.970,"p":7.8},{"t":4.981,"p":8.7},{"t":4.990,"p":5.3},{"t":4.997,"p":9.3},{"t":5.006,"p":6.7},{"t":5.013,"p":7.6},{"t":5.022,"p":3.0},{"t":5.033,"p":10.5},{"t":5.043,"p":11.3},{"t":5.054,"p":8.7},{"t":5.065,"p":9.5},{"t":5.080,"p":9.3},{"t":5.097,"p":9.5},{"t":5.108,"p":10.1},{"t":5.123,"p":10.5},{"t":5.139,"p":10.5},{"t":5.151,"p":7.1},{"t":5.165,"p":7.3},{"t":5.180,"p":2.5},{"t":5.195,"p":11.3},{"t":5.204,"p":9.3},{"t":5.213,"p":10.1},{"t":5.236,"p":11.7},{"t":5.253,"p":8.6},{"t":5.268,"p":12.4},{"t":5.279,"p":8.7},{"t":5.290,"p":2.5},{"t":5.299,"p":9.3},{"t":5.311,"p":5.9},{"t":5.327,"p":11.7},{"t":5.337,"p":9.0},{"t":5.348,"p":10.0},{"t":5.360,"p":2.0},{"t":5.373,"p":11.1},{"t":5.395,"p":13.0},{"t":5.406,"p":9.0},{"t":5.417,"p":5.3},{"t":5.431,"p":7.7},{"t":5.440,"p":2.8},{"t":5.445,"p":7.9},{"t":5.452,"p":9.0},{"t":5.461,"p":8.4},{"t":5.472,"p":8.0},{"t":5.481,"p":6.0},{"t":5.490,"p":2.2},{"t":5.500,"p":10.0},{"t":5.511,"p":11.6},{"t":5.527,"p":10.4},{"t":5.544,"p":8.6},{"t":5.559,"p":9.6},{"t":5.571,"p":10.7},{"t":5.580,"p":2.6},{"t":5.585,"p":9.7},{"t":5.599,"p":12.0},{"t":5.608,"p":7.0},{"t":5.617,"p":9.0},{"t":5.626,"p":5.9},{"t":5.637,"p":8.4},{"t":5.640,"p":2.0},{"t":5.651,"p":10.4},{"t":5.663,"p":11.7},{"t":5.672,"p":6.4},{"t":5.681,"p":7.7},{"t":5.692,"p":7.6},{"t":5.703,"p":10.9},{"t":5.718,"p":8.7},{"t":5.725,"p":6.7},{"t":5.731,"p":7.3},{"t":5.738,"p":7.5},{"t":5.745,"p":4.7},{"t":5.751,"p":4.2},{"t":5.757,"p":4.4},{"t":5.764,"p":4.0},{"t":5.770,"p":3.0},{"t":5.777,"p":4.7},{"t":5.784,"p":3.3},{"t":5.792,"p":4.2},{"t":5.797,"p":3.0},{"t":5.805,"p":2.7},{"t":5.812,"p":4.0},{"t":5.820,"p":3.3},{"t":5.826,"p":3.0},{"t":5.834,"p":4.4},{"t":5.838,"p":5.6},{"t":5.845,"p":4.0},{"t":5.853,"p":4.2},{"t":5.861,"p":5.9},{"t":5.872,"p":5.6},{"t":5.909,"p":8.4},{"t":5.918,"p":8.7},{"t":5.932,"p":6.7},{"t":5.939,"p":8.1},{"t":5.950,"p":9.6},{"t":5.960,"p":6.6},{"t":5.969,"p":7.3},{"t":5.976,"p":7.3},{"t":5.983,"p":7.6},{"t":5.989,"p":8.1},{"t":5.995,"p":7.0}]
},
"vconcat":[
{"width":1088,"height":99,"resolve":{"axis":{"x":"independent","y":"independent"}},
 "layer":[
  {"data":{"name":"nbi"},"mark":{"type":"point","opacity":0},"encoding":{
   "x":{"field":"t","type":"quantitative","scale":{"domain":[3,6],"nice":false,"zero":false},"axis":{"orient":"bottom","values":[3,3.1,3.2,3.3,3.4,3.5,3.6,3.7,3.8,3.9,4,4.1,4.2,4.3,4.4,4.5,4.6,4.7,4.8,4.9,5,5.1,5.2,5.3,5.4,5.5,5.6,5.7,5.8,5.9,6],"labels":false,"title":null,"tickSize":{"condition":{"test":"abs(datum.value*2-round(datum.value*2))<0.01","value":-8},"value":-4}}},
   "y":{"field":"v","type":"quantitative","scale":{"domain":[-0.235,6.17],"nice":false,"zero":false},"axis":{"orient":"left","values":[0,0.1,0.2,0.3,0.4,0.5,0.6,0.7,0.8,0.9,1,1.1,1.2,1.3,1.4,1.5,1.6,1.7,1.8,1.9,2,2.1,2.2,2.3,2.4,2.5,2.6,2.7,2.8,2.9,3,3.1,3.2,3.3,3.4,3.5,3.6,3.7,3.8,3.9,4,4.1,4.2,4.3,4.4,4.5,4.6,4.7,4.8,4.9,5,5.1,5.2,5.3,5.4,5.5,5.6,5.7,5.8,5.9,6],"labelExpr":"abs(datum.value/2-round(datum.value/2))<0.01 ? format(datum.value,'d') : ''","tickSize":{"condition":{"test":"abs(datum.value/2-round(datum.value/2))<0.01","value":-9},"value":-4},"labelPadding":16,"title":"MW","titleX":-48,"titleY":49.5,"titleBaseline":"middle"}}}},
  {"data":{"name":"nbi"},"mark":{"type":"point","opacity":0},"encoding":{
   "x":{"field":"t","type":"quantitative","axis":{"orient":"top","values":[3,3.1,3.2,3.3,3.4,3.5,3.6,3.7,3.8,3.9,4,4.1,4.2,4.3,4.4,4.5,4.6,4.7,4.8,4.9,5,5.1,5.2,5.3,5.4,5.5,5.6,5.7,5.8,5.9,6],"labels":false,"title":null,"tickSize":{"condition":{"test":"abs(datum.value*2-round(datum.value*2))<0.01","value":-8},"value":-4}}},
   "y":{"field":"v","type":"quantitative","axis":{"orient":"right","values":[0,0.1,0.2,0.3,0.4,0.5,0.6,0.7,0.8,0.9,1,1.1,1.2,1.3,1.4,1.5,1.6,1.7,1.8,1.9,2,2.1,2.2,2.3,2.4,2.5,2.6,2.7,2.8,2.9,3,3.1,3.2,3.3,3.4,3.5,3.6,3.7,3.8,3.9,4,4.1,4.2,4.3,4.4,4.5,4.6,4.7,4.8,4.9,5,5.1,5.2,5.3,5.4,5.5,5.6,5.7,5.8,5.9,6],"labels":false,"title":null,"tickSize":{"condition":{"test":"abs(datum.value/2-round(datum.value/2))<0.01","value":-9},"value":-4}}}}},
  {"data":{"name":"nbi"},"mark":{"type":"line","color":"#0000ff","strokeWidth":2},"encoding":{"x":{"field":"t","type":"quantitative","axis":null},"y":{"field":"v","type":"quantitative","axis":null}}},
  {"data":{"name":"ecrh"},"mark":{"type":"line","color":"#ffa500","strokeWidth":2},"encoding":{"x":{"field":"t","type":"quantitative","axis":null},"y":{"field":"v","type":"quantitative","axis":null}}},
  {"data":{"name":"icrf"},"mark":{"type":"line","color":"#ff0000","strokeWidth":2.4},"encoding":{"x":{"field":"t","type":"quantitative","axis":null},"y":{"field":"v","type":"quantitative","axis":null}}},
  {"data":{"name":"dips"},"mark":{"type":"rule","color":"#ff0000","strokeWidth":1.5},"encoding":{"x":{"field":"t","type":"quantitative","axis":null},"y":{"field":"lo","type":"quantitative","axis":null},"y2":{"field":"hi"}}},
  {"data":{"name":"hl"},"mark":{"type":"rule","color":"#000","strokeWidth":1.3},"encoding":{"x":{"field":"t1","type":"quantitative","axis":null},"x2":{"field":"t2"},"y":{"field":"v","type":"quantitative","axis":null}}},
  {"data":{"name":"div"},"mark":{"type":"rule","color":"#000","strokeWidth":1.3},"encoding":{"x":{"field":"t","type":"quantitative","axis":null},"y":{"field":"lo","type":"quantitative","axis":null},"y2":{"field":"hi"}}},
  {"data":{"values":[{"t":3.58,"v":4.75,"s":"NBI dominated"},{"t":5.07,"v":4.75,"s":"RF dominated"}]},"mark":{"type":"text","fontSize":30,"align":"center","baseline":"middle","color":"#000"},"encoding":{"x":{"field":"t","type":"quantitative","axis":null},"y":{"field":"v","type":"quantitative","axis":null},"text":{"field":"s","type":"nominal"}}},
  {"data":{"values":[{"t":3.047,"v":2.05,"s":"Neutral beam power"}]},"mark":{"type":"text","fontSize":24,"align":"left","baseline":"middle","color":"#0000ff"},"encoding":{"x":{"field":"t","type":"quantitative","axis":null},"y":{"field":"v","type":"quantitative","axis":null},"text":{"field":"s","type":"nominal"}}},
  {"data":{"values":[{"t":3.75,"v":2.05,"s":"ECRH power"}]},"mark":{"type":"text","fontSize":24,"align":"left","baseline":"middle","color":"#ffa500"},"encoding":{"x":{"field":"t","type":"quantitative","axis":null},"y":{"field":"v","type":"quantitative","axis":null},"text":{"field":"s","type":"nominal"}}},
  {"data":{"values":[{"t":4.453,"v":0.45,"s":"ICRF power"}]},"mark":{"type":"text","fontSize":24,"align":"left","baseline":"middle","color":"#ff0000"},"encoding":{"x":{"field":"t","type":"quantitative","axis":null},"y":{"field":"v","type":"quantitative","axis":null},"text":{"field":"s","type":"nominal"}}}
 ]},
{"width":1088,"height":99,"resolve":{"axis":{"x":"independent","y":"independent"}},
 "layer":[
  {"data":{"name":"w"},"mark":{"type":"point","opacity":0},"encoding":{
   "x":{"field":"t","type":"quantitative","scale":{"domain":[3,6],"nice":false,"zero":false},"axis":{"orient":"bottom","values":[3,3.1,3.2,3.3,3.4,3.5,3.6,3.7,3.8,3.9,4,4.1,4.2,4.3,4.4,4.5,4.6,4.7,4.8,4.9,5,5.1,5.2,5.3,5.4,5.5,5.6,5.7,5.8,5.9,6],"labels":false,"title":null,"tickSize":{"condition":{"test":"abs(datum.value*2-round(datum.value*2))<0.01","value":-8},"value":-4}}},
   "y":{"field":"v","type":"quantitative","scale":{"domain":[0.248,0.357],"nice":false,"zero":false},"axis":{"orient":"left","values":[0.25,0.255,0.26,0.265,0.27,0.275,0.28,0.285,0.29,0.295,0.3,0.305,0.31,0.315,0.32,0.325,0.33,0.335,0.34,0.345,0.35,0.355],"labelExpr":"abs(datum.value*50-round(datum.value*50))<0.01 ? format(datum.value,'.2f') : ''","tickSize":{"condition":{"test":"abs(datum.value*50-round(datum.value*50))<0.01","value":-9},"value":-4},"labelPadding":16,"title":"MJ","titleX":-73,"titleY":49.5,"titleBaseline":"middle"}}}},
  {"data":{"name":"w"},"mark":{"type":"point","opacity":0},"encoding":{
   "x":{"field":"t","type":"quantitative","axis":{"orient":"top","values":[3,3.1,3.2,3.3,3.4,3.5,3.6,3.7,3.8,3.9,4,4.1,4.2,4.3,4.4,4.5,4.6,4.7,4.8,4.9,5,5.1,5.2,5.3,5.4,5.5,5.6,5.7,5.8,5.9,6],"labels":false,"title":null,"tickSize":{"condition":{"test":"abs(datum.value*2-round(datum.value*2))<0.01","value":-8},"value":-4}}},
   "y":{"field":"v","type":"quantitative","axis":{"orient":"right","values":[0.25,0.255,0.26,0.265,0.27,0.275,0.28,0.285,0.29,0.295,0.3,0.305,0.31,0.315,0.32,0.325,0.33,0.335,0.34,0.345,0.35,0.355],"labels":false,"title":null,"tickSize":{"condition":{"test":"abs(datum.value*50-round(datum.value*50))<0.01","value":-9},"value":-4}}}}},
  {"data":{"name":"w"},"mark":{"type":"line","color":"#2fb52f","strokeWidth":1.8},"encoding":{"x":{"field":"t","type":"quantitative","axis":null},"y":{"field":"v","type":"quantitative","axis":null}}},
  {"data":{"values":[{"t":3.036,"v":0.336,"s":"MHD stored energy"}]},"mark":{"type":"text","fontSize":24,"align":"left","baseline":"middle","color":"#000"},"encoding":{"x":{"field":"t","type":"quantitative","axis":null},"y":{"field":"v","type":"quantitative","axis":null},"text":{"field":"s","type":"nominal"}}},
  {"data":{"values":[{"t":4.966,"v":0.266,"s":"ASDEX Upgrade #29160"}]},"mark":{"type":"text","fontSize":22,"align":"left","baseline":"middle","color":"#000"},"encoding":{"x":{"field":"t","type":"quantitative","axis":null},"y":{"field":"v","type":"quantitative","axis":null},"text":{"field":"s","type":"nominal"}}}
 ]},
{"width":1088,"height":99,"resolve":{"axis":{"x":"independent","y":"independent"}},
 "layer":[
  {"data":{"name":"h1"},"mark":{"type":"point","opacity":0},"encoding":{
   "x":{"field":"t","type":"quantitative","scale":{"domain":[3,6],"nice":false,"zero":false},"axis":{"orient":"bottom","values":[3,3.1,3.2,3.3,3.4,3.5,3.6,3.7,3.8,3.9,4,4.1,4.2,4.3,4.4,4.5,4.6,4.7,4.8,4.9,5,5.1,5.2,5.3,5.4,5.5,5.6,5.7,5.8,5.9,6],"labels":false,"title":null,"tickSize":{"condition":{"test":"abs(datum.value*2-round(datum.value*2))<0.01","value":-8},"value":-4}}},
   "y":{"field":"v","type":"quantitative","scale":{"domain":[2.82,5.86],"nice":false,"zero":false},"axis":{"orient":"left","values":[2.9,3,3.1,3.2,3.3,3.4,3.5,3.6,3.7,3.8,3.9,4,4.1,4.2,4.3,4.4,4.5,4.6,4.7,4.8,4.9,5,5.1,5.2,5.3,5.4,5.5,5.6,5.7,5.8],"labelExpr":"abs(datum.value-round(datum.value))<0.01 ? format(datum.value,'.1f') : ''","tickSize":{"condition":{"test":"abs(datum.value-round(datum.value))<0.01","value":-9},"value":-4},"labelPadding":16,"title":"10¹⁹m⁻³","titleX":-64,"titleY":49.5,"titleBaseline":"middle","titleFontSize":24}}}},
  {"data":{"name":"h1"},"mark":{"type":"point","opacity":0},"encoding":{
   "x":{"field":"t","type":"quantitative","axis":{"orient":"top","values":[3,3.1,3.2,3.3,3.4,3.5,3.6,3.7,3.8,3.9,4,4.1,4.2,4.3,4.4,4.5,4.6,4.7,4.8,4.9,5,5.1,5.2,5.3,5.4,5.5,5.6,5.7,5.8,5.9,6],"labels":false,"title":null,"tickSize":{"condition":{"test":"abs(datum.value*2-round(datum.value*2))<0.01","value":-8},"value":-4}}},
   "y":{"field":"v","type":"quantitative","axis":{"orient":"right","values":[2.9,3,3.1,3.2,3.3,3.4,3.5,3.6,3.7,3.8,3.9,4,4.1,4.2,4.3,4.4,4.5,4.6,4.7,4.8,4.9,5,5.1,5.2,5.3,5.4,5.5,5.6,5.7,5.8],"labels":false,"title":null,"tickSize":{"condition":{"test":"abs(datum.value-round(datum.value))<0.01","value":-9},"value":-4}}}}},
  {"data":{"values":[{"t1":3.21,"t2":6.0,"v":4.17}]},"mark":{"type":"rule","color":"#000","strokeWidth":1.3,"strokeDash":[1.5,4]},"encoding":{"x":{"field":"t1","type":"quantitative","axis":null},"x2":{"field":"t2"},"y":{"field":"v","type":"quantitative","axis":null}}},
  {"data":{"name":"h1"},"mark":{"type":"line","color":"#0000ff","strokeWidth":1.8},"encoding":{"x":{"field":"t","type":"quantitative","axis":null},"y":{"field":"v","type":"quantitative","axis":null}}},
  {"data":{"name":"h5"},"mark":{"type":"line","color":"#ff0000","strokeWidth":1.6},"encoding":{"x":{"field":"t","type":"quantitative","axis":null},"y":{"field":"v","type":"quantitative","axis":null}}},
  {"data":{"values":[{"t":3.565,"v":5.52,"s":"central line averaged density"},{"t":3.028,"v":4.79,"s":"H1"}]},"mark":{"type":"text","fontSize":24,"align":"left","baseline":"middle","color":"#0000ff"},"encoding":{"x":{"field":"t","type":"quantitative","axis":null},"y":{"field":"v","type":"quantitative","axis":null},"text":{"field":"s","type":"nominal"}}},
  {"data":{"values":[{"t":4.676,"v":3.31,"s":"peripheral line averaged density"},{"t":3.033,"v":3.71,"s":"H5"}]},"mark":{"type":"text","fontSize":24,"align":"left","baseline":"middle","color":"#ff0000"},"encoding":{"x":{"field":"t","type":"quantitative","axis":null},"y":{"field":"v","type":"quantitative","axis":null},"text":{"field":"s","type":"nominal"}}}
 ]},
{"width":1088,"height":99,"resolve":{"axis":{"x":"independent","y":"independent"}},
 "layer":[
  {"data":{"name":"iu"},"mark":{"type":"point","opacity":0},"encoding":{
   "x":{"field":"t","type":"quantitative","scale":{"domain":[3,6],"nice":false,"zero":false},"axis":{"orient":"bottom","values":[3,3.1,3.2,3.3,3.4,3.5,3.6,3.7,3.8,3.9,4,4.1,4.2,4.3,4.4,4.5,4.6,4.7,4.8,4.9,5,5.1,5.2,5.3,5.4,5.5,5.6,5.7,5.8,5.9,6],"labels":false,"title":null,"tickSize":{"condition":{"test":"abs(datum.value*2-round(datum.value*2))<0.01","value":-8},"value":-4}}},
   "y":{"field":"v","type":"quantitative","scale":{"domain":[-1.18,1.14],"nice":false,"zero":false},"axis":{"orient":"left","values":[-1.1,-1,-0.9,-0.8,-0.7,-0.6,-0.5,-0.4,-0.3,-0.2,-0.1,0,0.1,0.2,0.3,0.4,0.5,0.6,0.7,0.8,0.9,1,1.1],"labelExpr":"abs(datum.value*2-round(datum.value*2))<0.01 ? format(datum.value,'.1f') : ''","tickSize":{"condition":{"test":"abs(datum.value*2-round(datum.value*2))<0.01","value":-9},"value":-4},"labelPadding":16,"title":"kA","titleX":-52,"titleY":49.5,"titleBaseline":"middle"}}}},
  {"data":{"name":"iu"},"mark":{"type":"point","opacity":0},"encoding":{
   "x":{"field":"t","type":"quantitative","axis":{"orient":"top","values":[3,3.1,3.2,3.3,3.4,3.5,3.6,3.7,3.8,3.9,4,4.1,4.2,4.3,4.4,4.5,4.6,4.7,4.8,4.9,5,5.1,5.2,5.3,5.4,5.5,5.6,5.7,5.8,5.9,6],"labels":false,"title":null,"tickSize":{"condition":{"test":"abs(datum.value*2-round(datum.value*2))<0.01","value":-8},"value":-4}}},
   "y":{"field":"v","type":"quantitative","axis":{"orient":"right","values":[-1.1,-1,-0.9,-0.8,-0.7,-0.6,-0.5,-0.4,-0.3,-0.2,-0.1,0,0.1,0.2,0.3,0.4,0.5,0.6,0.7,0.8,0.9,1,1.1],"labels":false,"title":null,"tickSize":{"condition":{"test":"abs(datum.value*2-round(datum.value*2))<0.01","value":-9},"value":-4}}}}},
  {"data":{"values":[{"t1":3.0,"t2":6.0,"v":0}]},"mark":{"type":"rule","color":"#000","strokeWidth":1.2,"strokeDash":[8,6]},"encoding":{"x":{"field":"t1","type":"quantitative","axis":null},"x2":{"field":"t2"},"y":{"field":"v","type":"quantitative","axis":null}}},
  {"data":{"name":"iu"},"mark":{"type":"line","color":"#0000ff","strokeWidth":2},"encoding":{"x":{"field":"t","type":"quantitative","axis":null},"y":{"field":"v","type":"quantitative","axis":null}}},
  {"data":{"name":"il"},"mark":{"type":"line","color":"#ff0000","strokeWidth":2},"encoding":{"x":{"field":"t","type":"quantitative","axis":null},"y":{"field":"v","type":"quantitative","axis":null}}},
  {"data":{"values":[{"t":3.665,"v":0.39,"s":"ΔΦ = 45°"},{"t":4.655,"v":0.39,"s":"ΔΦ = 225°"},{"t":5.67,"v":0.39,"s":"ΔΦ = 45°"}]},"mark":{"type":"text","fontSize":36,"align":"center","baseline":"middle","color":"#000"},"encoding":{"x":{"field":"t","type":"quantitative","axis":null},"y":{"field":"v","type":"quantitative","axis":null},"text":{"field":"s","type":"nominal"}}},
  {"data":{"values":[{"t":3.055,"v":-0.7,"s":"Saddle coil currents:"},{"t":4.06,"v":-0.7,"s":"row"}]},"mark":{"type":"text","fontSize":24,"align":"left","baseline":"middle","color":"#000"},"encoding":{"x":{"field":"t","type":"quantitative","axis":null},"y":{"field":"v","type":"quantitative","axis":null},"text":{"field":"s","type":"nominal"}}},
  {"data":{"values":[{"t":3.676,"v":-0.7,"s":"lower"}]},"mark":{"type":"text","fontSize":24,"align":"left","baseline":"middle","color":"#ff0000"},"encoding":{"x":{"field":"t","type":"quantitative","axis":null},"y":{"field":"v","type":"quantitative","axis":null},"text":{"field":"s","type":"nominal"}}},
  {"data":{"values":[{"t":3.846,"v":-0.7,"s":"upper"}]},"mark":{"type":"text","fontSize":24,"align":"left","baseline":"middle","color":"#0000ff"},"encoding":{"x":{"field":"t","type":"quantitative","axis":null},"y":{"field":"v","type":"quantitative","axis":null},"text":{"field":"s","type":"nominal"}}}
 ]},
{"width":1088,"height":99,"resolve":{"axis":{"x":"independent","y":"independent"}},
 "layer":[
  {"data":{"name":"b5"},"mark":{"type":"point","opacity":0},"encoding":{
   "x":{"field":"t","type":"quantitative","scale":{"domain":[3,6],"nice":false,"zero":false},"axis":{"orient":"bottom","values":[3,3.1,3.2,3.3,3.4,3.5,3.6,3.7,3.8,3.9,4,4.1,4.2,4.3,4.4,4.5,4.6,4.7,4.8,4.9,5,5.1,5.2,5.3,5.4,5.5,5.6,5.7,5.8,5.9,6],"labelExpr":"abs(datum.value*2-round(datum.value*2))<0.01 ? format(datum.value,'.1f') : ''","labelPadding":9,"title":"time [s]","titleX":544,"titleY":40,"titleBaseline":"middle","tickSize":{"condition":{"test":"abs(datum.value*2-round(datum.value*2))<0.01","value":-8},"value":-4}}},
   "y":{"field":"v","type":"quantitative","scale":{"domain":[-0.71,15.44],"nice":false,"zero":false},"axis":{"orient":"left","values":[0,1,2,3,4,5,6,7,8,9,10,11,12,13,14,15],"labelExpr":"abs(datum.value/5-round(datum.value/5))<0.01 ? format(datum.value,'d') : ''","tickSize":{"condition":{"test":"abs(datum.value/5-round(datum.value/5))<0.01","value":-9},"value":-4},"labelPadding":16,"title":"MW","titleX":-57,"titleY":49.5,"titleBaseline":"middle"}}}},
  {"data":{"name":"b5"},"mark":{"type":"point","opacity":0},"encoding":{
   "x":{"field":"t","type":"quantitative","axis":{"orient":"top","values":[3,3.1,3.2,3.3,3.4,3.5,3.6,3.7,3.8,3.9,4,4.1,4.2,4.3,4.4,4.5,4.6,4.7,4.8,4.9,5,5.1,5.2,5.3,5.4,5.5,5.6,5.7,5.8,5.9,6],"labels":false,"title":null,"tickSize":{"condition":{"test":"abs(datum.value*2-round(datum.value*2))<0.01","value":-8},"value":-4}}},
   "y":{"field":"v","type":"quantitative","axis":{"orient":"right","values":[0,1,2,3,4,5,6,7,8,9,10,11,12,13,14,15],"labels":false,"title":null,"tickSize":{"condition":{"test":"abs(datum.value/5-round(datum.value/5))<0.01","value":-9},"value":-4}}}}},
  {"data":{"name":"b5"},"mark":{"type":"line","color":"#000","strokeWidth":1.2},"encoding":{"x":{"field":"t","type":"quantitative","axis":null},"y":{"field":"v","type":"quantitative","axis":null}}},
  {"data":{"name":"spk"},"mark":{"type":"rule","color":"#000","strokeWidth":1.5},"encoding":{"x":{"field":"t","type":"quantitative","axis":null},"y":{"field":"p","type":"quantitative","axis":null},"y2":{"datum":0}}},
  {"data":{"values":[{"t":3.022,"v":13.3,"s":"Inner divertor power (thermography)"}]},"mark":{"type":"text","fontSize":24,"align":"left","baseline":"middle","color":"#000"},"encoding":{"x":{"field":"t","type":"quantitative","axis":null},"y":{"field":"v","type":"quantitative","axis":null},"text":{"field":"s","type":"nominal"}}}
 ]}
]
}
